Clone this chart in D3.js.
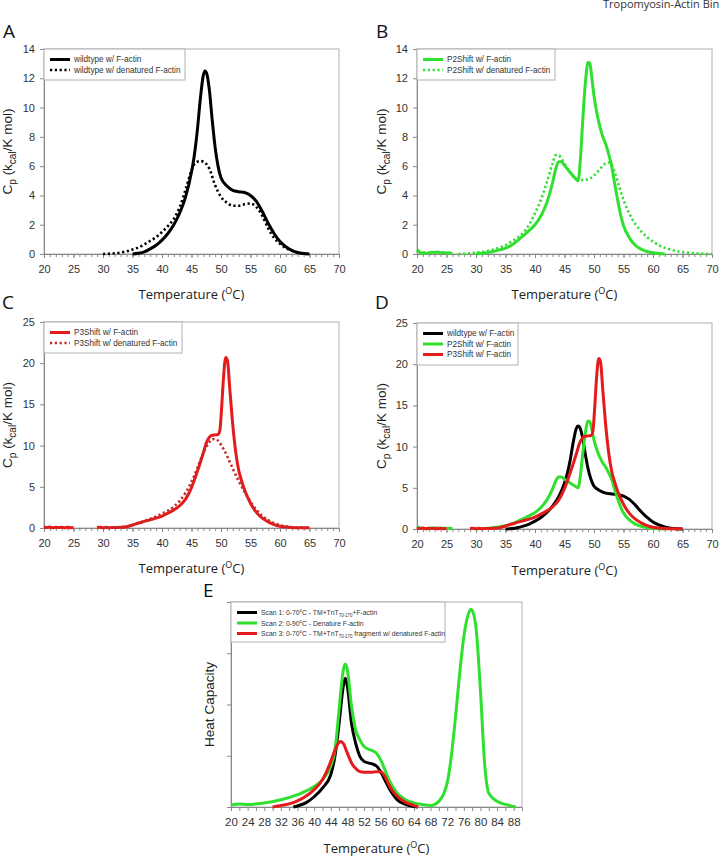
<!DOCTYPE html>
<html>
<head>
<meta charset="utf-8">
<script src="https://cdn.jsdelivr.net/npm/d3@7"></script>
<style>
  body { margin: 0; background: #fff; }
  svg { display: block; }
</style>
</head>
<body>
<svg width="719" height="860"></svg>
<script>
// ---- data: [temperature (°C), Cp (kcal/K mol)] ----
const wtFactin = [[35,0],[36,0.05],[37,0.15],[38,0.35],[39,0.6],[40,0.95],[41,1.4],[42,2.0],[43,2.8],[44,3.9],[45,5.6],[45.5,6.8],[46,8.5],[46.5,10.6],[47,12.2],[47.3,12.5],[47.6,12.3],[48,11.3],[48.5,9.2],[49,7.3],[49.5,6.0],[50,5.2],[51,4.65],[52,4.35],[53,4.25],[54,4.2],[55,4.0],[56,3.6],[57,2.9],[58,2.1],[59,1.4],[60,0.85],[61,0.5],[62,0.25],[63,0.1],[64,0.03],[65,0]];
const wtDenatured = [[30,0],[31,0.02],[32,0.05],[33,0.1],[34,0.18],[35,0.3],[36,0.45],[37,0.65],[38,0.9],[39,1.15],[40,1.5],[41,1.9],[42,2.4],[43,3.2],[44,4.4],[45,5.7],[45.5,6.15],[46,6.3],[46.5,6.35],[47,6.3],[47.5,6.15],[48,5.85],[49,4.7],[50,3.9],[51,3.5],[52,3.3],[53,3.3],[54,3.4],[55,3.45],[56,3.2],[57,2.6],[58,1.75],[59,1.1],[60,0.7],[61,0.4],[62,0.22],[63,0.1],[64,0.03],[65,0]];

const p2Factin = [[20,0.3],[20.4,0.15],[20.8,0.05],[21.2,0.1],[21.6,0.04],[22,0.08],[22.5,0.12],[23,0.1],[23.5,0.13],[24,0.08],[24.5,0.1],[25,0.06],[25.5,0.08],[26,0.03],[26.2,null],
  [30,0],[31,0.05],[32,0.1],[33,0.18],[34,0.28],[35,0.4],[36,0.6],[37,0.9],[38,1.25],[39,1.6],[40,2.0],[41,2.6],[42,3.5],[43,4.9],[43.5,5.8],[44,6.3],[44.5,6.3],[45,6.05],[46,5.55],[47,5.1],[47.3,5.0],[47.7,6.5],[48,8.5],[48.5,11.5],[49,13.1],[49.3,13.0],[49.7,11.8],[50,10.8],[50.5,9.6],[51,8.7],[51.5,8.0],[52,7.5],[52.5,6.8],[53,6.0],[53.5,4.8],[54,3.7],[54.5,2.7],[55,1.95],[56,1.1],[57,0.6],[58,0.33],[59,0.17],[60,0.08],[61,0.03],[62,0]];
const p2Denatured = [[27,0],[28,0.02],[29,0.05],[30,0.1],[31,0.15],[32,0.22],[33,0.3],[34,0.45],[35,0.6],[36,0.85],[37,1.1],[38,1.45],[39,2.0],[40,2.8],[41,3.7],[42,4.9],[43,6.2],[43.5,6.75],[44,6.75],[44.5,6.5],[45,6.15],[46,5.55],[47,5.15],[48,5.05],[49,5.1],[50,5.35],[51,5.8],[52,6.2],[52.5,6.25],[53,6.05],[53.5,5.6],[54,4.95],[55,3.7],[56,2.75],[57,2.05],[58,1.55],[59,1.15],[60,0.85],[61,0.6],[62,0.42],[63,0.3],[64,0.2],[65,0.14],[66,0.09],[67,0.05],[68,0.03],[69,0.01],[70,0]];

const p3Factin = [[20,0.15],[20.5,0.05],[21,0.12],[21.5,0.02],[22,0.1],[22.5,0.05],[23,0.1],[23.5,0.03],[24,0.08],[24.5,0.04],[25,0.05],[25.2,null],
  [29,0.05],[29.5,0.1],[30,0.02],[30.5,0.08],[31,0.03],[31.5,0.06],[32,0.05],[33,0.08],[34,0.15],[35,0.36],[36,0.6],[37,0.8],[38,1.0],[39,1.2],[40,1.45],[41,1.8],[42,2.2],[43,2.7],[44,3.5],[45,4.9],[46,6.9],[47,9.1],[47.5,10.3],[48,11.0],[48.5,11.25],[49,11.3],[49.5,11.35],[49.8,11.8],[50.1,14.5],[50.4,18.0],[50.8,20.7],[51.1,20.3],[51.5,16.8],[52,12.5],[52.5,9.2],[53,7.0],[53.5,5.7],[54,4.6],[55,3.0],[56,1.9],[57,1.2],[58,0.75],[59,0.42],[60,0.22],[61,0.12],[62,0.06],[63,0.03],[64,0.02],[65,0.02]];
const p3Denatured = [[30,0],[32,0.05],[34,0.2],[35,0.35],[36,0.6],[37,0.85],[38,1.1],[39,1.4],[40,1.75],[41,2.1],[42,2.6],[43,3.3],[44,4.3],[45,5.6],[46,7.3],[47,9.1],[48,10.4],[48.5,10.75],[49,10.8],[49.5,10.6],[50,10.1],[50.5,9.5],[51,8.8],[51.5,8.0],[52,7.2],[53,5.7],[54,4.4],[55,3.2],[56,2.2],[57,1.45],[58,0.95],[59,0.6],[60,0.35],[61,0.2],[62,0.1],[63,0.05],[64,0.02],[65,0]];

// panel E: [temperature, heat capacity (arbitrary units)]
const eScan1 = [[35,0],[36,0.02],[38,0.08],[40,0.2],[42,0.37],[44,0.63],[45,0.99],[46,1.63],[47,2.35],[47.5,2.51],[48,2.35],[49,1.63],[50,1.24],[51,0.99],[52,0.89],[53,0.86],[54,0.84],[55,0.8],[56,0.69],[57,0.53],[58,0.37],[59,0.24],[60,0.14],[62,0.05],[64,0.01],[65,0]];
const eScan2 = [[20,0.04],[22,0.06],[24,0.05],[28,0.08],[32,0.14],[36,0.24],[40,0.4],[42,0.53],[44,0.8],[45,1.1],[46,1.9],[47,2.67],[47.5,2.79],[48,2.67],[49,1.96],[50,1.5],[51,1.31],[52,1.18],[53,1.13],[54,1.1],[55,1.05],[56,0.92],[57,0.73],[58,0.53],[60,0.27],[62,0.14],[64,0.08],[66,0.05],[68,0.03],[70,0.11],[72,0.47],[73,0.99],[74,1.75],[75,2.6],[76,3.32],[77,3.74],[77.7,3.86],[78,3.84],[79,3.45],[80,2.28],[81,0.86],[82,0.27],[84,0.11],[86,0.05],[88,0.01],[88.5,0]];
const eScan3 = [[30,0],[32,0.03],[34,0.06],[36,0.12],[38,0.21],[40,0.34],[42,0.53],[43,0.69],[44,0.89],[45,1.11],[46,1.26],[46.5,1.28],[47,1.24],[48,1.05],[49,0.86],[50,0.75],[51,0.69],[52,0.68],[54,0.68],[55,0.69],[56,0.69],[57,0.6],[58,0.43],[59,0.3],[60,0.21],[62,0.09],[64,0.03],[65,0]];

const tempTicks = [20, 25, 30, 35, 40, 45, 50, 55, 60, 65, 70];
const cpTicks14 = [0, 2, 4, 6, 8, 10, 12, 14];
const cpTicks25 = [0, 5, 10, 15, 20, 25];
const eTempTicks = d3.range(20, 90, 2);
const eHeatTicks = [0, 1, 2, 3];

const BLACK = '#000', GREEN = '#2fe02f', RED = '#e41b1b', DARKRED = '#c42a2a';

const svg = d3.select('svg');
const FONT = '"Liberation Sans", Arial, sans-serif';
const TFONT = '"Open Sans", "Noto Sans", sans-serif';

// header text, cut by page edge like the scanned page
svg.append('text').attr('x', 603).attr('y', 8)
  .attr('font-family', TFONT).attr('font-size', 11).attr('fill', '#333')
  .text('Tropomyosin-Actin Binding');

function panel(o) {
  const g = svg.append('g');
  const x = d3.scaleLinear().domain(o.xDomain).range([o.left, o.right]);
  const y = d3.scaleLinear().domain(o.yDomain).range([o.bottom, o.top]);

  // frame
  g.append('rect').attr('x', o.left).attr('y', o.top)
    .attr('width', o.right - o.left).attr('height', o.bottom - o.top)
    .attr('fill', 'none').attr('stroke', '#b0b0b0').attr('stroke-width', 1);

  // minor x ticks
  if (o.xMinor) {
    g.append('g').attr('transform', `translate(0,${o.bottom})`)
      .call(d3.axisBottom(x).tickValues(o.xMinor).tickSize(3).tickFormat(''))
      .call(a => a.select('.domain').remove())
      .selectAll('line').attr('stroke', '#888');
  }
  const xa = g.append('g').attr('transform', `translate(0,${o.bottom})`)
    .call(d3.axisBottom(x).tickValues(o.xTicks).tickSize(4).tickPadding(7)
      .tickFormat(o.xFormat || d3.format('d')));
  const ya = g.append('g').attr('transform', `translate(${o.left},0)`)
    .call(d3.axisLeft(y).tickValues(o.yTicks).tickSize(4).tickPadding(5)
      .tickFormat(o.yFormat || d3.format('d')));
  [xa, ya].forEach(a => {
    a.select('.domain').attr('stroke', '#888');
    a.selectAll('line').attr('stroke', '#888');
    a.selectAll('text').attr('font-family', FONT).attr('font-size', o.tickFont || 11).attr('fill', '#333');
  });

  // series
  const line = d3.line()
    .defined(d => d[1] !== null)
    .x(d => x(d[0])).y(d => y(d[1]))
    .curve(d3.curveMonotoneX);
  o.series.forEach(s => {
    g.append('path').datum(s.data)
      .attr('d', line)
      .attr('fill', 'none')
      .attr('stroke', s.color)
      .attr('stroke-width', s.dotted ? 2.6 : 3)
      .attr('stroke-dasharray', s.dotted ? '2.2,2.6' : null)
      .attr('stroke-linejoin', 'round');
  });

  // legend
  const fs = o.legendFont || 8.2;
  const lg = g.append('g');
  lg.append('rect').attr('x', o.left).attr('y', o.top)
    .attr('width', o.legendW).attr('height', o.legendH)
    .attr('fill', '#fff').attr('stroke', '#b0b0b0');
  o.series.filter(s => s.label).forEach((s, i) => {
    const ly = o.top + 10.5 + i * 10.5;
    lg.append('line').attr('x1', o.left + 6).attr('x2', o.left + 26)
      .attr('y1', ly).attr('y2', ly)
      .attr('stroke', s.color).attr('stroke-width', s.dotted ? 2.6 : 3)
      .attr('stroke-dasharray', s.dotted ? '2.2,2.6' : null);
    const t = lg.append('text').attr('x', o.left + 30).attr('y', ly + 2.8)
      .attr('font-family', FONT).attr('font-size', fs).attr('fill', '#333');
    s.label.forEach(part => {
      const ts = t.append('tspan').text(part.t);
      if (part.sub) ts.attr('font-size', fs * 0.65).attr('dy', 2);
      if (part.sup) ts.attr('font-size', fs * 0.65).attr('dy', -3);
      if (part.back) ts.attr('dy', part.back);
    });
  });

  // x title
  const xt = g.append('text').attr('x', (o.left + o.right) / 2).attr('y', o.xTitleY)
    .attr('text-anchor', 'middle').attr('font-family', TFONT)
    .attr('font-size', 13).attr('fill', '#222');
  xt.append('tspan').text('Temperature (');
  xt.append('tspan').text('O').attr('font-size', 9).attr('dy', -5);
  xt.append('tspan').text('C)').attr('dy', 5);

  // y title
  const yt = g.append('text')
    .attr('transform', `translate(${o.yTitleX},${(o.top + o.bottom) / 2}) rotate(-90)`)
    .attr('text-anchor', 'middle').attr('font-family', FONT)
    .attr('font-size', 13.5).attr('fill', '#222');
  if (o.yTitle === 'cp') {
    yt.append('tspan').text('C');
    yt.append('tspan').text('p').attr('font-size', 10).attr('dy', 4);
    yt.append('tspan').text(' (k').attr('dy', -4);
    yt.append('tspan').text('cal').attr('font-size', 10).attr('dy', 4);
    yt.append('tspan').text('/K mol)').attr('dy', -4);
  } else {
    yt.text(o.yTitle);
  }

  // panel letter
  g.append('text').attr('x', o.letterX).attr('y', o.letterY)
    .attr('font-family', TFONT).attr('font-size', 19).attr('fill', '#111')
    .text(o.letter);
}

const minor1 = d3.range(20, 71, 1);

panel({
  letter: 'A', letterX: 3, letterY: 38,
  left: 44, right: 339, top: 49, bottom: 254,
  xDomain: [20, 70], yDomain: [0, 14], xTicks: tempTicks, xMinor: minor1, yTicks: cpTicks14,
  xTitleY: 299, yTitleX: 12, yTitle: 'cp', legendW: 141, legendH: 31,
  series: [
    { data: wtFactin, color: BLACK, label: [{ t: 'wildtype w/ F-actin' }] },
    { data: wtDenatured, color: BLACK, dotted: true, label: [{ t: 'wildtype w/ denatured F-actin' }] }
  ]
});

panel({
  letter: 'B', letterX: 376, letterY: 38,
  left: 417, right: 712, top: 49, bottom: 254,
  xDomain: [20, 70], yDomain: [0, 14], xTicks: tempTicks, xMinor: minor1, yTicks: cpTicks14,
  xTitleY: 299, yTitleX: 386, yTitle: 'cp', legendW: 138, legendH: 31,
  series: [
    { data: p2Factin, color: GREEN, label: [{ t: 'P2Shift w/ F-actin' }] },
    { data: p2Denatured, color: GREEN, dotted: true, label: [{ t: 'P2Shift w/ denatured F-actin' }] }
  ]
});

panel({
  letter: 'C', letterX: 2, letterY: 309,
  left: 44, right: 339, top: 322, bottom: 528,
  xDomain: [20, 70], yDomain: [0, 25], xTicks: tempTicks, xMinor: minor1, yTicks: cpTicks25,
  xTitleY: 573, yTitleX: 12, yTitle: 'cp', legendW: 138, legendH: 31,
  series: [
    { data: p3Factin, color: RED, label: [{ t: 'P3Shift w/ F-actin' }] },
    { data: p3Denatured, color: DARKRED, dotted: true, label: [{ t: 'P3Shift w/ denatured F-actin' }] }
  ]
});

panel({
  letter: 'D', letterX: 375, letterY: 309,
  left: 417, right: 712, top: 323, bottom: 529,
  xDomain: [20, 70], yDomain: [0, 25], xTicks: tempTicks, xMinor: minor1, yTicks: cpTicks25,
  xTitleY: 575, yTitleX: 386, yTitle: 'cp', legendW: 101, legendH: 42,
  series: [
    { data: wtFactin, color: BLACK, label: [{ t: 'wildtype w/ F-actin' }] },
    { data: p2Factin, color: GREEN, label: [{ t: 'P2Shift w/ F-actin' }] },
    { data: p3Factin, color: RED, label: [{ t: 'P3Shift w/ F-actin' }] }
  ]
});

panel({
  letter: 'E', letterX: 203, letterY: 597,
  left: 231, right: 522, top: 602, bottom: 807,
  xDomain: [20, 90], yDomain: [0, 4], xTicks: eTempTicks, yTicks: eHeatTicks,
  xFormat: d => d % 4 === 0 ? d : '', yFormat: () => '', tickFont: 11.5,
  xTitleY: 853, yTitleX: 214, yTitle: 'Heat Capacity', legendW: 214, legendH: 40, legendFont: 6.8,
  series: [
    { data: eScan1, color: BLACK, label: [{ t: 'Scan 1: 0-70' }, { t: 'o', sup: true }, { t: 'C - TM+TnT', back: 3 }, { t: '70-170', sub: true }, { t: '+F-actin', back: -2 }] },
    { data: eScan2, color: GREEN, label: [{ t: 'Scan 2: 0-90' }, { t: 'o', sup: true }, { t: 'C - Denature F-actin', back: 3 }] },
    { data: eScan3, color: RED, label: [{ t: 'Scan 3: 0-70' }, { t: 'o', sup: true }, { t: 'C - TM+TnT', back: 3 }, { t: '70-170', sub: true }, { t: ' fragment w/ denatured F-actin', back: -2 }] }
  ]
});
</script>
</body>
</html>
